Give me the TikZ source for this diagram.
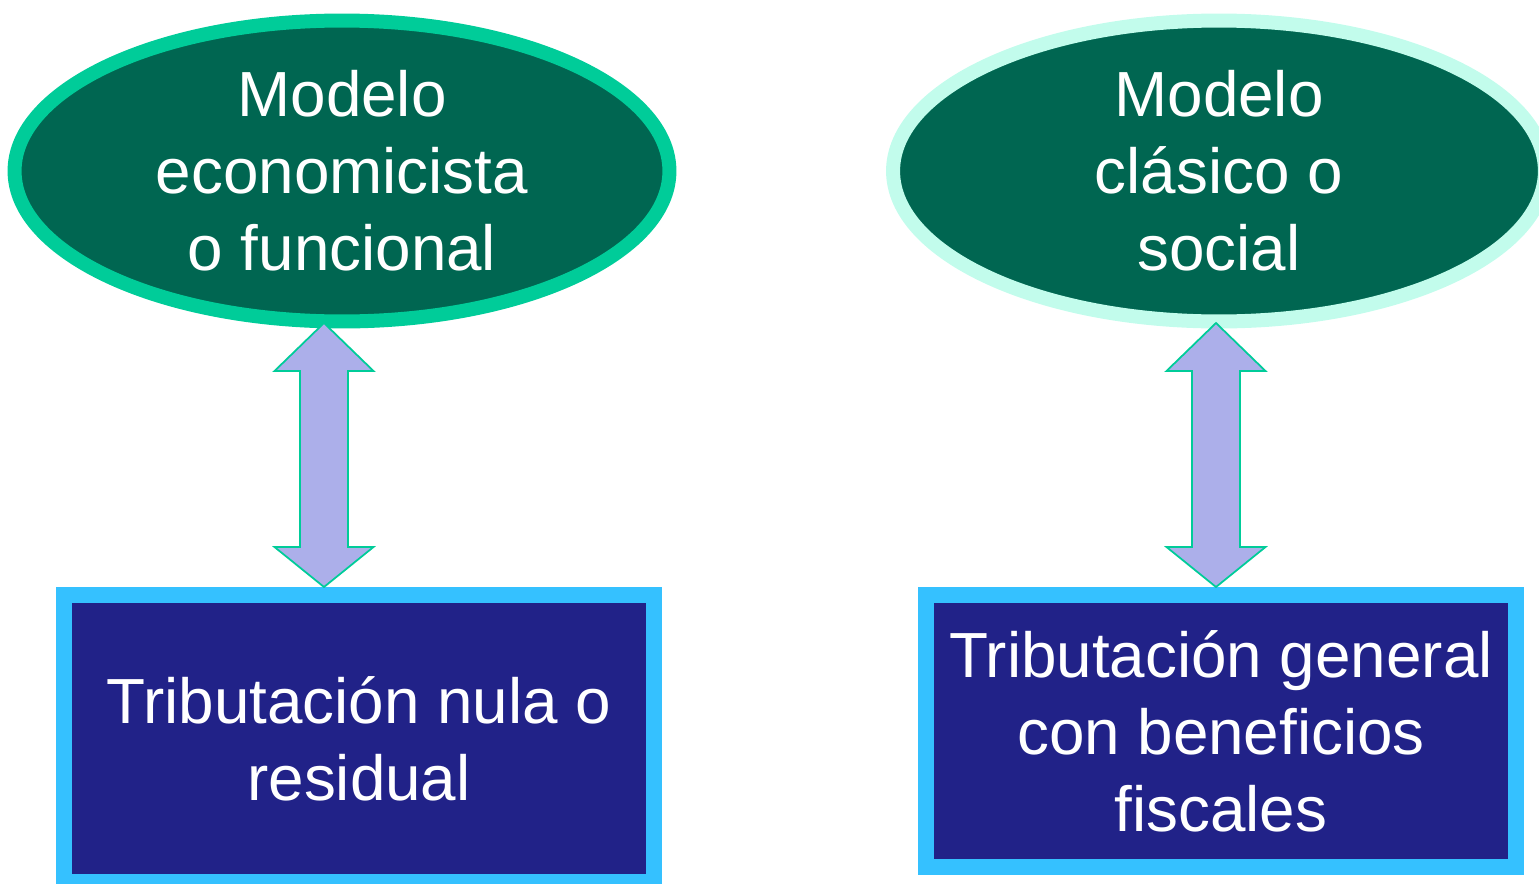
\documentclass[tikz,border=0pt]{standalone}
\usepackage{fontspec}
\setmainfont{Liberation Sans}
\usetikzlibrary{shapes.geometric,calc}
\definecolor{verdeosc}{HTML}{006651}
\definecolor{verdeborde}{HTML}{00CC99}
\definecolor{mentaborde}{HTML}{C2FCEC}
\definecolor{azulosc}{HTML}{212288}
\definecolor{celeste}{HTML}{35C1FF}
\definecolor{lila}{HTML}{ACAFEA}
\tikzset{
  modelo/.style    = {shape=ellipse, draw, fill=verdeosc, line width=0.28cm,
                      inner sep=0pt, align=center, text=white,
                      minimum width=13.1cm, minimum height=6.02cm},
  tributo/.style   = {shape=rectangle, draw=celeste, fill=azulosc, line width=0.32cm,
                      inner sep=0pt, align=center, text=white, minimum width=11.8cm},
  fatarrow/.style  = {draw=verdeborde, fill=lila, line width=1pt, line join=miter},
  every node/.style = {font=\fontsize{36.3}{43.8}\selectfont}
}
\begin{document}
\begin{tikzpicture}[x=0.02cm, y=-0.02cm]
  \useasboundingbox (0,0) rectangle (1539,883);
  % modelos
  \node [modelo, draw=verdeborde] (eco) at (342,171) {Modelo\\economicista\\o funcional};
  \node [modelo, draw=mentaborde, minimum width=13.04cm] (cla) at (1219,171) {Modelo\\clásico o\\social};
  % tributacion
  \node [tributo, minimum height=5.74cm] (nula) at (359,738.5) {Tributación nula o\\residual};
  \node [tributo, minimum height=5.44cm] (gral) at (1221,731) {Tributación general\\con beneficios\\fiscales};
  % flechas dobles
  \coordinate (t1) at (324,323);
  \coordinate (b1) at (324,587);
  \coordinate (t2) at (1216,323);
  \coordinate (b2) at (1216,587);
  \draw[fatarrow] (t1) -- ++(49.5,48) -- ++(-25.5,0) -- ($(b1)+(24,-40)$) -- ++(25.5,0) -- (b1)
    -- ++(-49.5,-40) -- ++(25.5,0) -- ($(t1)+(-24,48)$) -- ++(-25.5,0) -- cycle;
  \draw[fatarrow] (t2) -- ++(49.5,48) -- ++(-25.5,0) -- ($(b2)+(24,-40)$) -- ++(25.5,0) -- (b2)
    -- ++(-49.5,-40) -- ++(25.5,0) -- ($(t2)+(-24,48)$) -- ++(-25.5,0) -- cycle;
\end{tikzpicture}
\end{document}
